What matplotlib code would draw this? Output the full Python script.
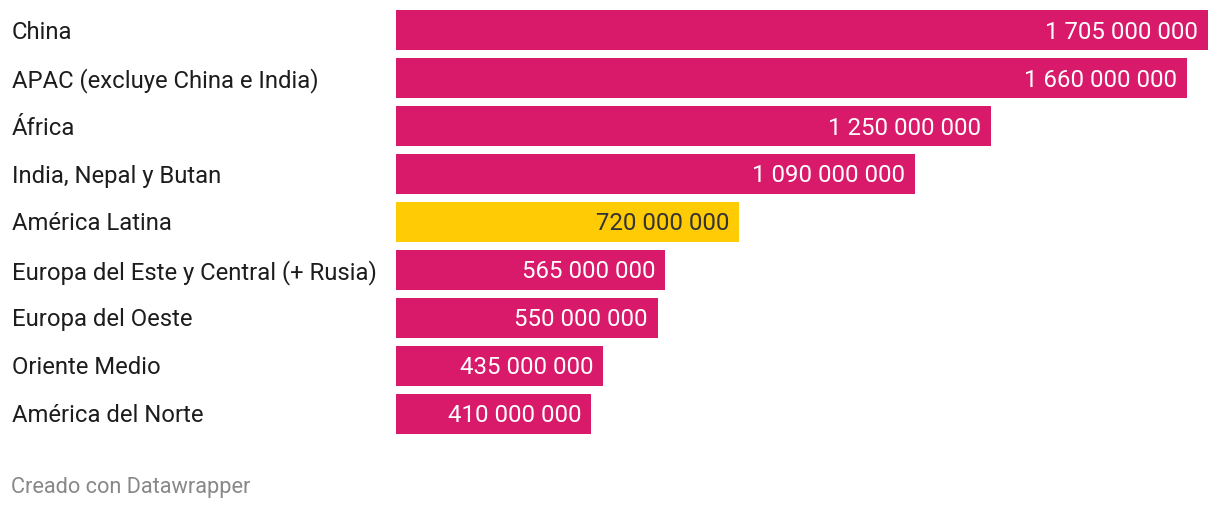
import matplotlib
matplotlib.use("Agg")
import matplotlib.pyplot as plt
import matplotlib.transforms as mtransforms

categories = ["China", "APAC (excluye China e India)", "África", "India, Nepal y Butan",
              "América Latina", "Europa del Este y Central (+ Rusia)", "Europa del Oeste",
              "Oriente Medio", "América del Norte"]
values = [1705000000, 1660000000, 1250000000, 1090000000, 720000000,
          565000000, 550000000, 435000000, 410000000]
highlight = "América Latina"

PINK = "#d91a6b"
YELLOW = "#fecb05"

plt.rcParams['font.family'] = ['Roboto', 'DejaVu Sans']

W, H = 1220, 510
fig = plt.figure(figsize=(W / 100, H / 100), dpi=100)
ax_left = 396 / W
ax_right = 1208 / W
top_px, bot_px = 7, 439
ax = fig.add_axes([ax_left, 1 - bot_px / H, ax_right - ax_left, (bot_px - top_px) / H])

ypos = list(range(len(categories)))
colors = [YELLOW if c == highlight else PINK for c in categories]
ax.barh(ypos, values, height=40 / 48, color=colors, linewidth=0)
ax.set_xlim(0, max(values))
ax.set_ylim(len(categories) - 0.5, -0.5)
ax.axis("off")

def fmt(v):
    return f"{v:,}".replace(",", " ")

blend = mtransforms.blended_transform_factory(fig.transFigure, ax.transData)
lift = mtransforms.ScaledTranslation(0, 1.5 / 100, fig.dpi_scale_trans)
pad_px = 10
data_per_px = max(values) / ((ax_right - ax_left) * W)
for y, v, c in zip(ypos, values, categories):
    tc = "#333333" if c == highlight else "white"
    ax.text(v - pad_px * data_per_px, y, fmt(v), ha="right", va="center_baseline",
            color=tc, fontsize=17.3, transform=ax.transData + lift)
    ax.text(12 / W, y, c, transform=blend + lift, ha="left", va="center_baseline",
            color="#1d1d1d", fontsize=17.2, clip_on=False)

fig.text(11 / W, 1 - 487 / H, "Creado con Datawrapper", ha="left", va="center",
         color="#888888", fontsize=15.7)

fig.savefig("out.png", dpi=100)
